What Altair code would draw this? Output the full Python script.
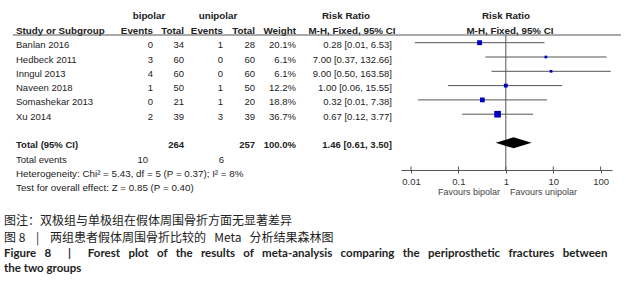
import altair as alt
import pandas as pd

# ---------------- data ----------------
studies = ["Banlan 2016", "Hedbeck 2011", "Inngul 2013", "Naveen 2018", "Somashekar 2013", "Xu 2014"]
bip_events = [0, 3, 4, 1, 0, 2]
bip_total = [34, 60, 60, 50, 21, 39]
uni_events = [1, 0, 0, 1, 1, 3]
uni_total = [28, 60, 60, 50, 20, 39]
weights = [20.1, 6.1, 6.1, 12.2, 18.8, 36.7]
rr = [0.28, 7.00, 9.00, 1.00, 0.32, 0.67]
ci_low = [0.012, 0.37, 0.50, 0.06, 0.014, 0.12]
ci_high = [6.53, 132.66, 163.58, 15.55, 7.38, 3.77]

total_bip = 264
total_uni = 257
events_bip = 10
events_uni = 6
pooled = [0.61, 1.46, 3.50]  # low, estimate, high
heterogeneity = "Heterogeneity: Chi² = 5.43, df = 5 (P = 0.37); I² = 8%"
overall = "Test for overall effect: Z = 0.85 (P = 0.40)"
tick_values = [0.01, 0.1, 1, 10, 100]
favours = ["Favours bipolar", "Favours unipolar"]
caption_cn1 = "图注：双极组与单极组在假体周围骨折方面无显著差异"
caption_cn2 = ["图", "8", "|", "两组患者假体周围骨折比较的", "Meta", "分析结果森林图"]
caption_en1 = ["Figure", "8", "|", "Forest", "plot", "of", "the", "results", "of", "meta-analysis",
               "comparing", "the", "periprosthetic", "fractures", "between"]
caption_en2 = "the two groups"

# ---------------- tables ----------------
df = pd.DataFrame({
    "study": studies,
    "be": [str(v) for v in bip_events],
    "bt": [str(v) for v in bip_total],
    "ue": [str(v) for v in uni_events],
    "ut": [str(v) for v in uni_total],
    "weight": weights,
    "wtxt": [f"{w:.1f}%" for w in weights],
    "rr": rr,
    "lo": ci_low,
    "hi": ci_high,
    "rrtxt": [f"{r:.2f} [{l:.2f}, {h:.2f}]" for r, l, h in zip(rr, ci_low, ci_high)],
    "row": list(range(len(studies))),
})

TOTAL_ROW = 7
tot = pd.DataFrame([{
    "study": "Total (95% CI)", "bt": str(total_bip), "ut": str(total_uni),
    "wtxt": "100.0%", "rrtxt": f"{pooled[1]:.2f} [{pooled[0]:.2f}, {pooled[2]:.2f}]",
    "row": TOTAL_ROW,
}])
ev = pd.DataFrame([{"study": "Total events", "be": str(events_bip), "ue": str(events_uni), "row": TOTAL_ROW + 1}])
notes = pd.DataFrame({"study": [heterogeneity, overall], "row": [TOTAL_ROW + 2, TOTAL_ROW + 3]})

H = 0.385
diamond = pd.DataFrame({
    "x": pooled,
    "yt": [TOTAL_ROW, TOTAL_ROW - H, TOTAL_ROW],
    "yb": [TOTAL_ROW, TOTAL_ROW + H, TOTAL_ROW],
})
ticks_df = pd.DataFrame({"v": tick_values})
ref_df = pd.DataFrame({"v": [1.0]})

# ---------------- styling ----------------
FONT = "Liberation Sans"
FS = 9.5
FSH = 9.8
TXT = "#222222"
LINE = "#555555"
NB = "\u00a0"

yscale = alt.Scale(domain=[0, 10], range=[42.7, 185.7])
xscale = alt.Scale(type="log", domain=[0.00615, 173.8], range=[401, 612])
xaxis = alt.Axis(values=tick_values, format="~g", title=None, grid=False, tickSize=3,
                 labelPadding=3, domainColor=LINE, tickColor=LINE, labelFont=FONT,
                 labelFontSize=9.5, labelColor="#333333", labelFlush=False)

Y = alt.Y("row:Q", scale=yscale, axis=None)


def col(data, field, xpx, align="right", bold=False, size=FS):
    return alt.Chart(data).mark_text(
        align=align, baseline="middle", dy=2.5, font=FONT, fontSize=size,
        fontWeight="bold" if bold else "normal", color=TXT,
    ).encode(x=alt.value(xpx), y=Y, text=f"{field}:N")


layers = []
layers += [
    col(df, "study", 16, "left"),
    col(df, "be", 153), col(df, "bt", 184), col(df, "ue", 223), col(df, "ut", 255),
    col(df, "wtxt", 296), col(df, "rrtxt", 392),
]
layers += [
    col(tot, "study", 16, "left", True), col(tot, "bt", 184, bold=True), col(tot, "ut", 255, bold=True),
    col(tot, "wtxt", 296, bold=True), col(tot, "rrtxt", 392, bold=True),
    col(ev, "study", 16, "left"), col(ev, "be", 148), col(ev, "ue", 224),
    col(notes, "study", 16, "left", size=9.8),
]

headers = [
    ("bipolar", 149, 16, "center"), ("unipolar", 218, 16, "center"),
    ("Risk Ratio", 346, 16, "center"), ("Risk Ratio", 506, 16, "center"),
    ("Study or Subgroup", 16, 31, "left"), ("Events", 153, 31, "right"), ("Total", 184, 31, "right"),
    ("Events", 223, 31, "right"), ("Total", 255, 31, "right"), ("Weight", 296, 31, "right"),
    ("M-H, Fixed, 95% CI", 352, 31, "center"), ("M-H, Fixed, 95% CI", 510, 31, "center"),
]
for t, xp, yp, al in headers:
    layers.append(
        alt.Chart(pd.DataFrame({"t": [t]})).mark_text(
            align=al, baseline="middle", font=FONT, fontSize=FSH, fontWeight="bold", color=TXT
        ).encode(x=alt.value(xp), y=alt.value(yp), text="t:N")
    )

layers.append(
    alt.Chart(ref_df).mark_rule(color=LINE, strokeWidth=1).encode(
        x=alt.value(13), x2=alt.value(621), y=alt.value(35))
)

X = lambda f: alt.X(f, scale=xscale, axis=xaxis)
layers += [
    alt.Chart(ref_df).mark_rule(color=LINE, strokeWidth=1).encode(
        x=X("v:Q"), y=alt.value(35), y2=alt.value(170)),
    alt.Chart(ticks_df).mark_rule(color=LINE, strokeWidth=1).encode(
        x=X("v:Q"), y=alt.value(166.5), y2=alt.value(170)),
    alt.Chart(df).mark_rule(color=LINE, strokeWidth=1).encode(
        x=X("lo:Q"), x2="hi:Q", y=Y),
    alt.Chart(df).mark_square(color="#0000c0", opacity=1).encode(
        x=X("rr:Q"), y=Y,
        size=alt.Size("weight:Q", scale=alt.Scale(type="linear", domain=[0, 40], range=[0, 48]), legend=None)),
    alt.Chart(diamond).mark_area(color="black", orient="vertical", opacity=1).encode(
        x=X("x:Q"), y=alt.Y("yt:Q", scale=yscale, axis=None), y2="yb:Q"),
]

fav = pd.DataFrame({"t": favours})
layers += [
    alt.Chart(fav.iloc[[0]]).mark_text(align="right", baseline="middle", font=FONT, fontSize=9,
                                       color="#444444").encode(x=alt.value(500), y=alt.value(192), text="t:N"),
    alt.Chart(fav.iloc[[1]]).mark_text(align="left", baseline="middle", font=FONT, fontSize=9,
                                       color="#444444").encode(x=alt.value(510), y=alt.value(192), text="t:N"),
]

# captions (justified look via non-breaking spaces)
cn2 = (caption_cn2[0] + NB + caption_cn2[1] + NB * 4 + caption_cn2[2] + NB * 4 + caption_cn2[3]
       + NB * 3 + caption_cn2[4] + NB * 3 + caption_cn2[5])
en1 = ""
for i, w in enumerate(caption_en1):
    if i == 0:
        en1 = w
    elif caption_en1[i - 1] == "|" or w == "|":
        en1 += NB * 6 + w
    else:
        en1 += NB * 3 + w

captions = [
    (caption_cn1, 221, "Noto Sans CJK SC", "normal", 12),
    (cn2, 238, "Noto Sans CJK SC", "normal", 12),
    (en1, 254, "Lato", "bold", 11.5),
    (caption_en2, 269, "Lato", "bold", 11.5),
]
for t, yp, f, w, s in captions:
    layers.append(
        alt.Chart(pd.DataFrame({"t": [t]})).mark_text(
            align="left", baseline="middle", font=f, fontSize=s, fontWeight=w, color="#222222"
        ).encode(x=alt.value(4), y=alt.value(yp), text="t:N")
    )

chart = alt.layer(*layers).properties(
    width=626, height=170,
    padding={"left": 0, "top": 0, "right": 0, "bottom": 130},
    autosize=alt.AutoSizeParams(type="none"),
    background="white",
).configure_view(strokeWidth=0)

chart.save("out.html", embed_options={"renderer": "svg", "actions": False})
